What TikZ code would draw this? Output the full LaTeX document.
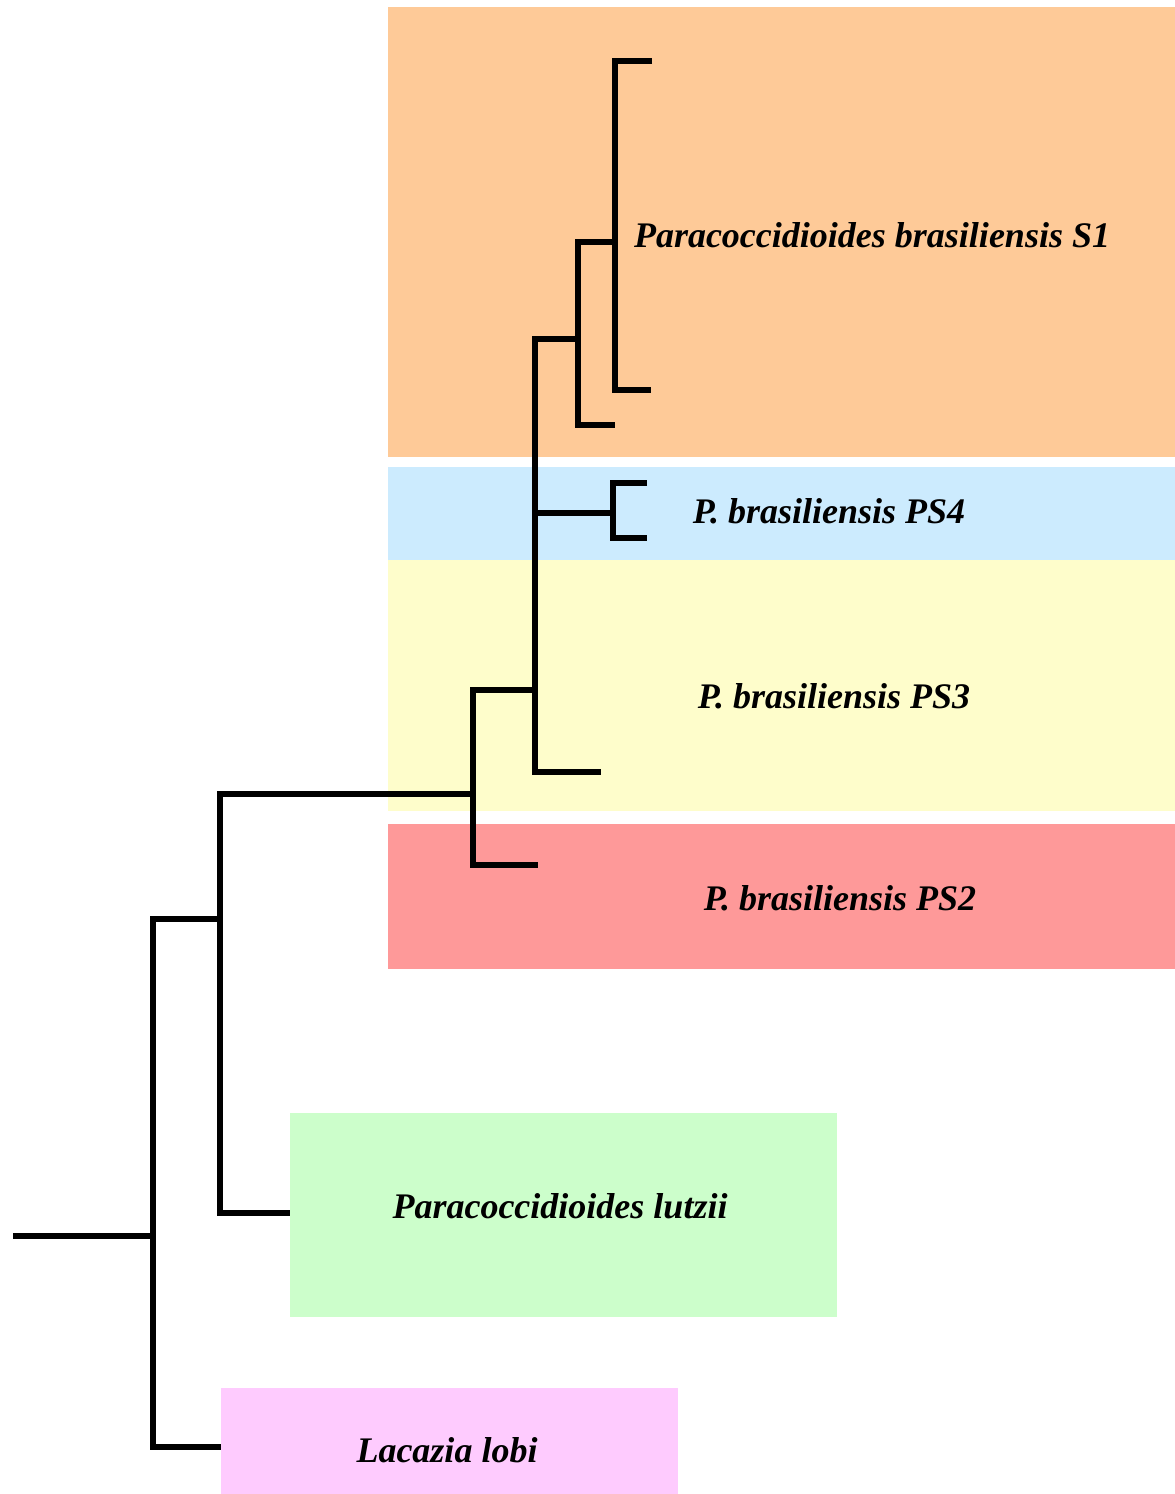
\documentclass[tikz,border=0pt]{standalone}
\usepackage{fontspec}
\setmainfont{Liberation Serif}
\definecolor{cOrange}{HTML}{FECA98}
\definecolor{cBlue}{HTML}{CCEBFE}
\definecolor{cYellow}{HTML}{FEFDCB}
\definecolor{cRed}{HTML}{FE9999}
\definecolor{cGreen}{HTML}{CCFECB}
\definecolor{cPink}{HTML}{FECBFE}
\begin{document}
\begin{tikzpicture}[x=1pt,y=-1pt,
  branch/.style={line width=6.5pt, line join=miter, line cap=butt},
  lab/.style={font=\fontsize{36}{42}\selectfont\bfseries\itshape, inner sep=0pt, anchor=base}]
\useasboundingbox (0,0) rectangle (1175,1494);
\fill[white] (0,0) rectangle (1175,1494);
% coloured bands
\fill[cOrange] (388,7) rectangle (1175,457);
\fill[cBlue] (388,467) rectangle (1175,560);
\fill[cYellow] (388,560) rectangle (1175,811);
\fill[cRed] (388,824) rectangle (1175,969);
\fill[cGreen] (290,1113) rectangle (837,1317);
\fill[cPink] (221,1388) rectangle (678,1494);
% labels
\node[lab] (lS1) at (872,247) {Paracoccidioides brasiliensis S1};
\node[lab] (lPS4) at (829,523) {P. brasiliensis PS4};
\node[lab] (lPS3) at (834,708) {P. brasiliensis PS3};
\node[lab] (lPS2) at (840,910) {P. brasiliensis PS2};
\node[lab] (lLu) at (560,1218) {Paracoccidioides lutzii};
\node[lab] (lLa) at (447,1462) {Lacazia lobi};
% tree coordinates
\coordinate (s1a) at (652,61);
\coordinate (s1b) at (651,390);
\coordinate (n1) at (615,242);
\coordinate (n2) at (578,339);
\coordinate (t2) at (615,425);
\coordinate (n3) at (535,690);
\coordinate (t3) at (601,772);
\coordinate (n4) at (613,513);
\coordinate (t4a) at (647,483);
\coordinate (t4b) at (647,538);
\coordinate (n5) at (473,794);
\coordinate (t5) at (538,865);
\coordinate (n6) at (220,919);
\coordinate (t6) at (290,1213);
\coordinate (n7) at (153,1236);
\coordinate (t7) at (221,1447);
\coordinate (root) at (13,1236);
% branches
\draw[branch] (s1a) -| (n1) |- (s1b);
\draw[branch] (n1) -| (n2) |- (t2);
\draw[branch] (n2) -| (n3) |- (t3);
\draw[branch] (t4a) -| (n4) |- (t4b);
\draw[branch] (n4) -- (n4 -| n3);
\draw[branch] (n3) -| (n5) |- (t5);
\draw[branch] (n5) -| (n6) |- (t6);
\draw[branch] (n6) -| (n7) |- (t7);
\draw[branch] (root) -- (n7);
\end{tikzpicture}
\end{document}
